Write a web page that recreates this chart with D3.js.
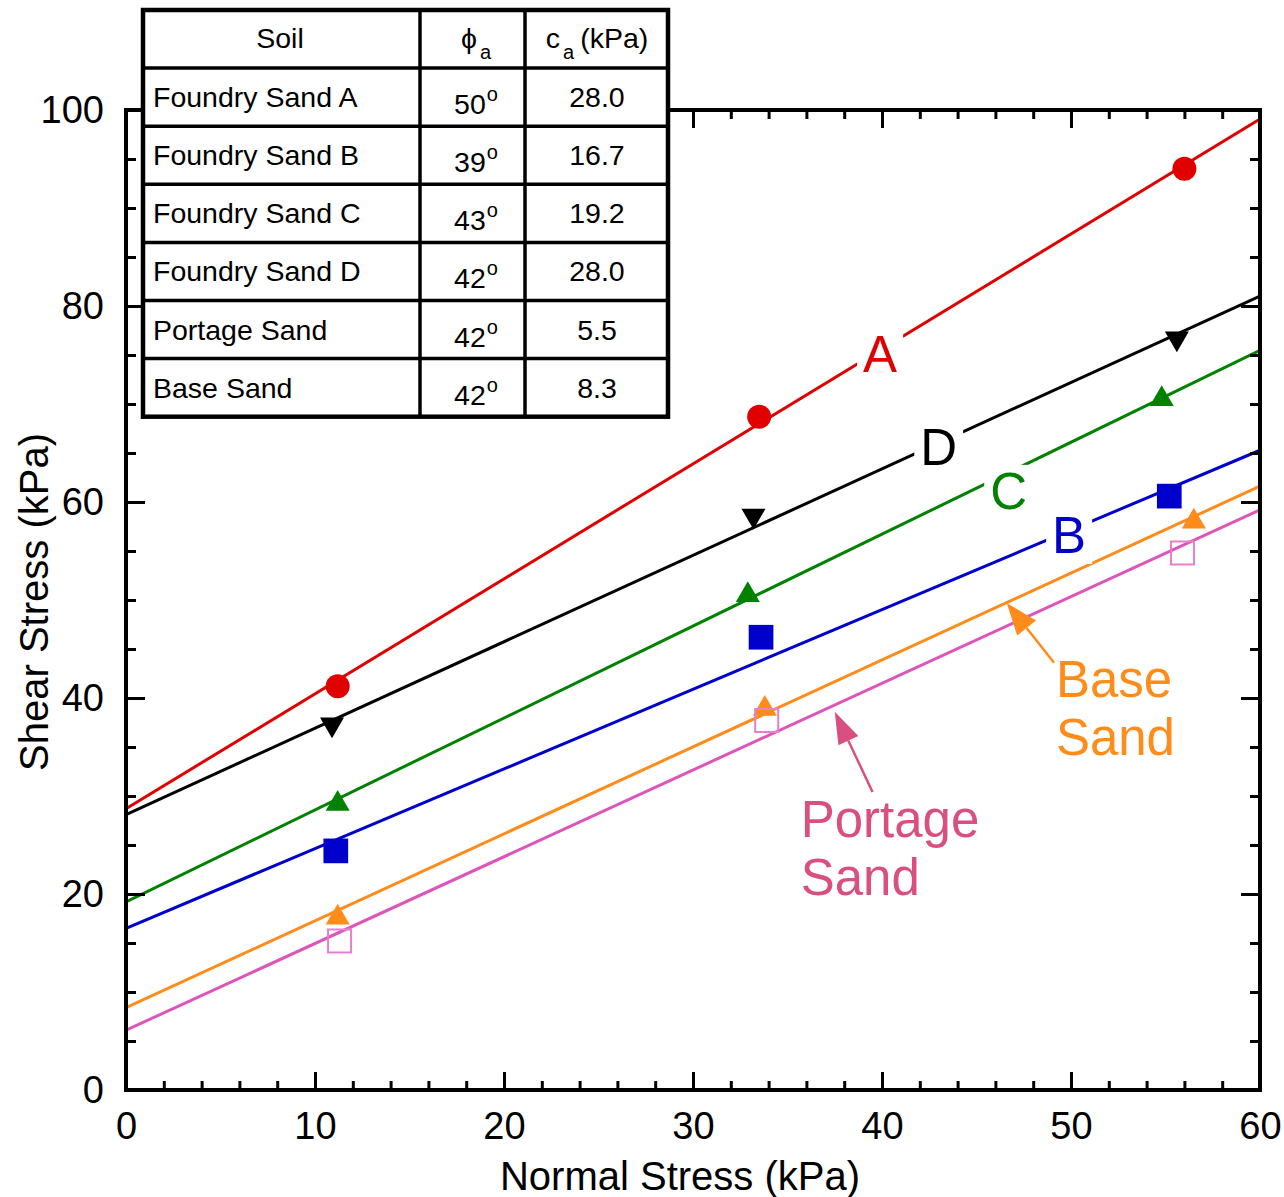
<!DOCTYPE html>
<html>
<head>
<meta charset="utf-8">
<script src="https://cdn.jsdelivr.net/npm/d3@7"></script>
<style>
  body { margin: 0; background: #fff; }
  svg { display: block; font-family: "Liberation Sans", Arial, sans-serif; }
</style>
</head>
<body>
<div id="chart"></div>
<script>
// table contents
var soilNames = ["Foundry Sand A", "Foundry Sand B", "Foundry Sand C", "Foundry Sand D", "Portage Sand", "Base Sand"];
var phiValues = [50, 39, 43, 42, 42, 42];
var caValues = ["28.0", "16.7", "19.2", "28.0", "5.5", "8.3"];

// axis ticks
var xMajorTicks = [0, 10, 20, 30, 40, 50, 60];
var xMinorTicks = [2, 4, 6, 8, 12, 14, 16, 18, 22, 24, 26, 28, 32, 34, 36, 38, 42, 44, 46, 48, 52, 54, 56, 58];
var yMajorTicks = [0, 20, 40, 60, 80, 100];
var yMinorTicks = [5, 10, 15, 25, 30, 35, 45, 50, 55, 65, 70, 75, 85, 90, 95];

// measured points (normal stress, shear stress)
var sandA_x = [11.2, 33.5, 56.0], sandA_y = [41.2, 68.7, 94.0];
var sandD_x = [10.9, 33.2, 55.6], sandD_y = [37.3, 58.6, 76.7];
var sandC_x = [11.2, 32.9, 54.8], sandC_y = [29.2, 50.5, 70.5];
var sandB_x = [11.1, 33.6, 55.2], sandB_y = [24.4, 46.2, 60.6];
var base_x = [11.2, 33.8, 56.5], base_y = [17.6, 38.9, 58.0];
var portage_x = [11.3, 33.9, 55.9], portage_y = [15.2, 37.7, 54.8];

// fitted envelopes: intercept and slope
var fitIntercept = [28.7, 28.1, 19.2, 16.5, 8.4, 6.1];
var fitSlope = [1.173, 0.882, 0.938, 0.813, 0.887, 0.885];

var width = 1284, height = 1197;
var margin = {left: 126, right: 24, top: 110, bottom: 107};

var x = d3.scaleLinear().domain([0, 60]).range([margin.left, width - margin.right]);
var y = d3.scaleLinear().domain([0, 100]).range([height - margin.bottom, margin.top]);

var svg = d3.select("#chart").append("svg")
  .attr("width", width).attr("height", height);

var series = [
  {xs: sandA_x, ys: sandA_y, color: "#e00000", symbol: d3.symbolCircle, size: 452, rot: 0, fill: true},
  {xs: sandD_x, ys: sandD_y, color: "#000000", symbol: d3.symbolTriangle, size: 250, rot: 180, fill: true},
  {xs: sandC_x, ys: sandC_y, color: "#008200", symbol: d3.symbolTriangle, size: 250, rot: 0, fill: true},
  {xs: sandB_x, ys: sandB_y, color: "#0000cc", symbol: d3.symbolSquare, size: 610, rot: 0, fill: true},
  {xs: base_x, ys: base_y, color: "#ff8c1a", symbol: d3.symbolTriangle, size: 250, rot: 0, fill: true},
  {xs: portage_x, ys: portage_y, color: "#dd55bb", symbol: d3.symbolSquare, size: 530, rot: 0, fill: false}
];

svg.append("clipPath").attr("id", "plotclip").append("rect")
  .attr("x", x(0)).attr("y", y(100))
  .attr("width", x(60) - x(0)).attr("height", y(0) - y(100));

var plot = svg.append("g").attr("clip-path", "url(#plotclip)");

var line = d3.line().x(function(d){ return x(d[0]); }).y(function(d){ return y(d[1]); });

series.forEach(function(s, i){
  var pts = [[0, fitIntercept[i]], [60, fitIntercept[i] + 60 * fitSlope[i]]];
  plot.append("path").datum(pts)
    .attr("d", line)
    .attr("fill", "none")
    .attr("stroke", s.color)
    .attr("stroke-width", 3);
});

series.forEach(function(s){
  var sym = d3.symbol().type(s.symbol).size(s.size);
  s.xs.forEach(function(xv, j){
    var p = plot.append("path")
      .attr("d", sym())
      .attr("transform", "translate(" + x(xv) + "," + y(s.ys[j]) + ") rotate(" + s.rot + ")");
    if (s.fill) {
      p.attr("fill", s.color);
    } else {
      p.attr("fill", "none").attr("stroke", "#e67fcc").attr("stroke-width", 2);
    }
  });
});

// letter labels sitting on the lines, with white boxes that break the lines
var letterLabels = ["A", "D", "C", "B"];
var letterColors = ["#e00000", "#000000", "#008200", "#0000cc"];
var letterX = [39.9, 43.0, 46.7, 49.9];
var letterY = [73.3, 63.8, 59.3, 54.8];

var labelG = svg.append("g");
letterLabels.forEach(function(t, i){
  var txt = labelG.append("text")
    .attr("x", x(letterX[i])).attr("y", y(letterY[i]))
    .attr("text-anchor", "middle")
    .attr("font-size", 51)
    .attr("fill", letterColors[i])
    .text(t);
  var bb = txt.node().getBBox();
  labelG.insert("rect", function(){ return txt.node(); })
    .attr("x", bb.x - 6).attr("y", bb.y + 2)
    .attr("width", bb.width + 12).attr("height", bb.height - 2)
    .attr("fill", "#fff");
});

// annotations with arrows
function arrow(x1, y1, x2, y2, color, headLen, headW){
  var ang = Math.atan2(y2 - y1, x2 - x1);
  var bx = x2 - headLen * Math.cos(ang), by = y2 - headLen * Math.sin(ang);
  svg.append("line")
    .attr("x1", x1).attr("y1", y1).attr("x2", bx).attr("y2", by)
    .attr("stroke", color).attr("stroke-width", 2.5);
  var px = -Math.sin(ang) * headW / 2, py = Math.cos(ang) * headW / 2;
  svg.append("path")
    .attr("d", "M" + x2 + "," + y2 + "L" + (bx + px) + "," + (by + py) + "L" + (bx - px) + "," + (by - py) + "Z")
    .attr("fill", color);
}

arrow(x(49.1), y(43.6), x(46.6), y(49.7), "#ff8c1a", 32, 24);
arrow(x(39.5), y(30.4), x(37.5), y(38.6), "#d94f7f", 32, 22);

function twoLines(lines, xv, yv, color){
  var t = svg.append("text")
    .attr("x", x(xv)).attr("y", y(yv))
    .attr("font-size", 51).attr("fill", color);
  lines.forEach(function(l, i){
    t.append("tspan").attr("x", x(xv)).attr("dy", i === 0 ? 0 : 58).text(l);
  });
}
twoLines(["Base", "Sand"], 49.2, 40.1, "#ff8c1a");
twoLines(["Portage", "Sand"], 35.7, 25.8, "#d94f7f");

// axes: ticks pointing inward on all four sides
var axG = svg.append("g").attr("font-size", 38);

function addAxis(axis, transform, labels){
  var g = axG.append("g").attr("transform", transform).call(axis);
  g.select(".domain").remove();
  g.selectAll(".tick line").attr("stroke", "#000").attr("stroke-width", 3);
  g.selectAll(".tick text").attr("fill", "#000")
    .style("font-family", "Liberation Sans, Arial, sans-serif")
    .style("font-size", "38px");
  if (!labels) g.selectAll(".tick text").remove();
  return g;
}

var fmt = d3.format("d");
addAxis(d3.axisBottom(x).tickValues(xMajorTicks).tickSize(-18).tickPadding(22).tickFormat(fmt), "translate(0," + y(0) + ")", true);
addAxis(d3.axisBottom(x).tickValues(xMinorTicks).tickSize(-9), "translate(0," + y(0) + ")", false);
addAxis(d3.axisTop(x).tickValues(xMajorTicks).tickSize(-18), "translate(0," + y(100) + ")", false);
addAxis(d3.axisTop(x).tickValues(xMinorTicks).tickSize(-9), "translate(0," + y(100) + ")", false);
addAxis(d3.axisLeft(y).tickValues(yMajorTicks).tickSize(-19).tickPadding(22).tickFormat(fmt), "translate(" + x(0) + ",0)", true);
addAxis(d3.axisLeft(y).tickValues(yMinorTicks).tickSize(-10), "translate(" + x(0) + ",0)", false);
addAxis(d3.axisRight(y).tickValues(yMajorTicks).tickSize(-19), "translate(" + x(60) + ",0)", false);
addAxis(d3.axisRight(y).tickValues(yMinorTicks).tickSize(-10), "translate(" + x(60) + ",0)", false);

svg.append("rect")
  .attr("x", x(0)).attr("y", y(100))
  .attr("width", x(60) - x(0)).attr("height", y(0) - y(100))
  .attr("fill", "none").attr("stroke", "#000").attr("stroke-width", 4);

svg.append("text")
  .attr("x", 680).attr("y", 1190)
  .attr("text-anchor", "middle").attr("font-size", 40)
  .text("Normal Stress (kPa)");

svg.append("text")
  .attr("transform", "translate(48," + 602 + ") rotate(-90)")
  .attr("text-anchor", "middle").attr("font-size", 40)
  .text("Shear Stress (kPa)");

// parameter table over the upper left corner
var tab = svg.append("g");
var tLeft = 143, tRight = 668, tTop = 10, rowH = 58.1;
var colEdges = [tLeft, 420, 525, tRight];
var tBottom = tTop + rowH * (soilNames.length + 1);
var fs = 28.5, fsSmall = 20;

tab.append("rect")
  .attr("x", tLeft).attr("y", tTop)
  .attr("width", tRight - tLeft).attr("height", tBottom - tTop)
  .attr("fill", "#fff");

for (var r = 1; r <= soilNames.length; r++) {
  tab.append("line")
    .attr("x1", tLeft).attr("x2", tRight)
    .attr("y1", tTop + r * rowH).attr("y2", tTop + r * rowH)
    .attr("stroke", "#000").attr("stroke-width", 3.5);
}
[1, 2].forEach(function(c){
  tab.append("line")
    .attr("x1", colEdges[c]).attr("x2", colEdges[c])
    .attr("y1", tTop).attr("y2", tBottom)
    .attr("stroke", "#000").attr("stroke-width", 3.5);
});
tab.append("rect")
  .attr("x", tLeft).attr("y", tTop)
  .attr("width", tRight - tLeft).attr("height", tBottom - tTop)
  .attr("fill", "none").attr("stroke", "#000").attr("stroke-width", 4.5);

// header
tab.append("text").attr("x", 280).attr("y", tTop + 38)
  .attr("text-anchor", "middle").attr("font-size", fs).text("Soil");
var hPhi = tab.append("text").attr("x", 476).attr("y", tTop + 38)
  .attr("text-anchor", "middle").attr("font-size", fs);
hPhi.append("tspan").text("\u03D5");
hPhi.append("tspan").attr("font-size", fsSmall).attr("dy", 11).attr("dx", 3).text("a");
var hC = tab.append("text").attr("x", 597).attr("y", tTop + 38)
  .attr("text-anchor", "middle").attr("font-size", fs);
hC.append("tspan").text("c");
hC.append("tspan").attr("font-size", fsSmall).attr("dy", 11).attr("dx", 3).text("a");
hC.append("tspan").attr("dy", -11).attr("dx", 6).text("(kPa)");

soilNames.forEach(function(name, i){
  var top = tTop + (i + 1) * rowH;
  tab.append("text").attr("x", 153).attr("y", top + 39)
    .attr("font-size", fs).text(name);
  var p = tab.append("text").attr("x", 476).attr("y", top + 46)
    .attr("text-anchor", "middle").attr("font-size", fs);
  p.append("tspan").text(phiValues[i]);
  p.append("tspan").attr("font-size", fsSmall).attr("dy", -13).attr("dx", 1).text("o");
  tab.append("text").attr("x", 597).attr("y", top + 39)
    .attr("text-anchor", "middle").attr("font-size", fs).text(caValues[i]);
});
</script>
</body>
</html>
